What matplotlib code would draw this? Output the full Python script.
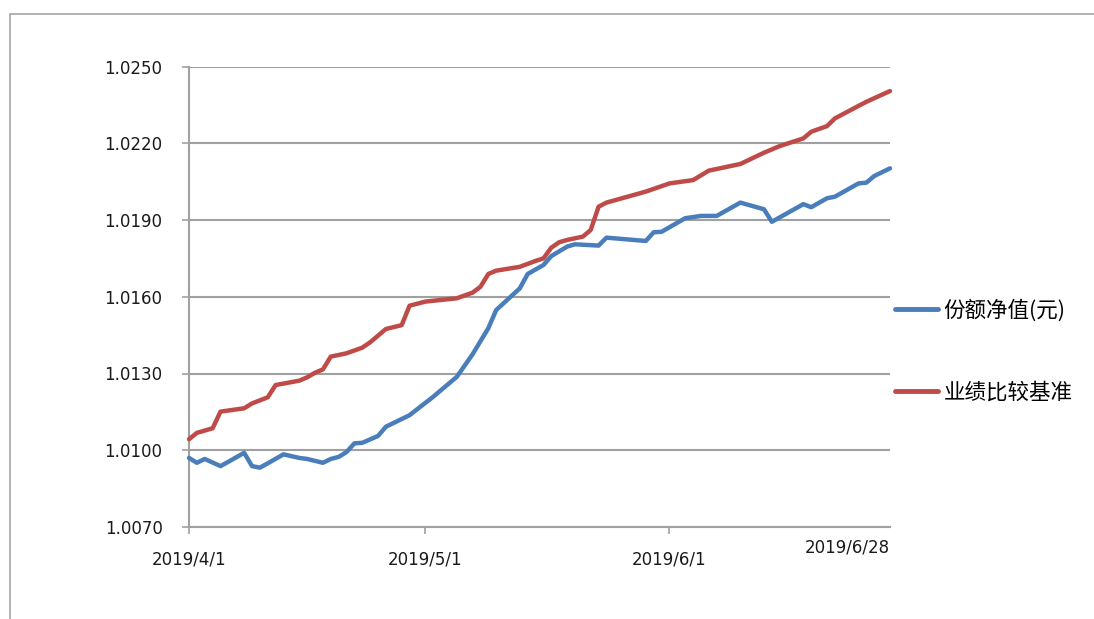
import numpy as np
import matplotlib
matplotlib.use('Agg')
import matplotlib.pyplot as plt
from matplotlib.patches import Rectangle

# days counted from 2019/4/1
start = np.datetime64('2019-04-01')

nav_days = [0, 1, 2, 4, 5, 7, 8, 9, 10, 12, 14, 15, 17, 18, 19, 20, 21, 22, 24, 25,
	28, 31, 34, 36, 38, 39, 42, 43, 45, 46, 48, 49, 52, 53, 58, 59, 60, 63, 65, 67,
	70, 73, 74, 78, 79, 81, 82, 85, 86, 87, 89]
nav_vals = [1.00970, 1.00951, 1.00966, 1.00938, 1.00955, 1.00990, 1.00938, 1.00932, 1.00949, 1.00984,
	1.00970, 1.00966, 1.00951, 1.00966, 1.00974, 1.00993, 1.01027, 1.01029, 1.01056, 1.01092,
	1.01137, 1.01209, 1.01287, 1.01375, 1.01477, 1.01548, 1.01633, 1.01689, 1.01724, 1.01759,
	1.01796, 1.01805, 1.01800, 1.01831, 1.01818, 1.01852, 1.01854, 1.01907, 1.01916, 1.01916,
	1.01968, 1.01942, 1.01893, 1.01962, 1.01950, 1.01985, 1.01991, 1.02043, 1.02046, 1.02072,
	1.02102]

bench_days = [0, 1, 3, 4, 7, 8, 10, 11, 14, 15, 16, 17, 18, 20, 22, 23, 25, 27, 28, 30,
	34, 36, 37, 38, 39, 42, 44, 45, 46, 47, 48, 50, 51, 52, 53, 58, 61, 64, 66, 70,
	73, 75, 78, 79, 81, 82, 85, 86, 89]
bench_vals = [1.01043, 1.01068, 1.01086, 1.01151, 1.01164, 1.01183, 1.01207, 1.01255, 1.01272, 1.01285,
	1.01303, 1.01316, 1.01366, 1.01379, 1.01401, 1.01422, 1.01474, 1.01489, 1.01565, 1.01581,
	1.01594, 1.01616, 1.01639, 1.01689, 1.01702, 1.01717, 1.01740, 1.01750, 1.01792, 1.01813,
	1.01822, 1.01835, 1.01861, 1.01952, 1.01968, 1.02011, 1.02043, 1.02056, 1.02093, 1.02119,
	1.02163, 1.02189, 1.02219, 1.02245, 1.02267, 1.02297, 1.02346, 1.02362, 1.02404]

series_names = ['份额净值(元)', '业绩比较基准']
y_ticks = [1.0070, 1.0100, 1.0130, 1.0160, 1.0190, 1.0220, 1.0250]
x_tick_dates = ['2019-04-01', '2019-05-01', '2019-06-01']
x_tick_labels = ['2019/4/1', '2019/5/1', '2019/6/1']
end_label = '2019/6/28'

BLUE = '#4a7ebb'
RED = '#be4b48'
GRID = '#a0a0a0'

plt.rcParams['font.family'] = ['DejaVu Sans', 'Noto Sans CJK SC']

W, H = 1094, 619
fig = plt.figure(figsize=(W / 100, H / 100), dpi=100)
ax = fig.add_axes([189 / W, 1 - 527 / H, (890 - 189) / W, (527 - 66.5) / H])

nav_x = start + np.array(nav_days).astype('timedelta64[D]')
bench_x = start + np.array(bench_days).astype('timedelta64[D]')

ax.plot(nav_x, nav_vals, color=BLUE, lw=3.2, solid_joinstyle='round', solid_capstyle='round',
	label=series_names[0], zorder=3, clip_on=False)
ax.plot(bench_x, bench_vals, color=RED, lw=3.2, solid_joinstyle='round', solid_capstyle='round',
	label=series_names[1], zorder=3, clip_on=False)

ax.set_xlim(start, start + np.timedelta64(89, 'D'))
ax.set_ylim(y_ticks[0], y_ticks[-1])

ax.set_yticks(y_ticks)
ax.set_yticklabels(['%.4f' % v for v in y_ticks])
ax.set_xticks([np.datetime64(d) for d in x_tick_dates])
ax.set_xticklabels(x_tick_labels)

ax.grid(axis='y', color=GRID, lw=1.5)
ax.set_axisbelow(True)
for s in ['top', 'right']:
	ax.spines[s].set_visible(False)
for s in ['left', 'bottom']:
	ax.spines[s].set_color(GRID)
	ax.spines[s].set_linewidth(1.5)

ax.tick_params(axis='y', length=5, width=1.2, color=GRID, pad=14, labelsize=12, labelcolor='#1a1a1a')
ax.tick_params(axis='x', length=5, width=1.2, color=GRID, pad=12, labelsize=12, labelcolor='#1a1a1a')

# last date label sits at the right end of the axis
ax.text(1.0, -0.045, end_label, transform=ax.transAxes, ha='right', va='center',
	fontsize=12, color='#1a1a1a')

leg = fig.legend(loc='upper left', bbox_to_anchor=(895 / W, 1 - 299 / H), frameon=False,
	handlelength=2.0, handletextpad=0.25, labelspacing=2.8, borderpad=0, borderaxespad=0,
	prop={'family': ['Noto Sans CJK SC'], 'size': 15.5})
for line in leg.get_lines():
	line.set_linewidth(3.5)

# outer chart border (cut off on the right and bottom)
fig.add_artist(Rectangle((10 / W, -0.1), 1.2, 1.1 - 14 / H, transform=fig.transFigure,
	fill=False, edgecolor='#a6a6a6', lw=1.2))

fig.savefig('out.png', dpi=100)
